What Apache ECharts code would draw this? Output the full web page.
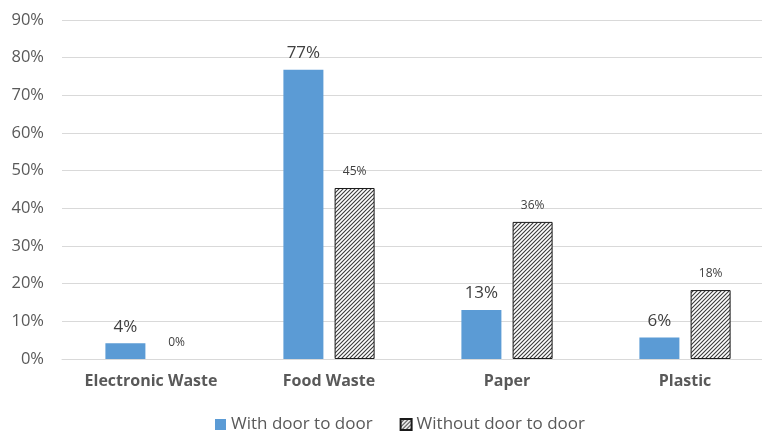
<!DOCTYPE html>
<html lang="en">
<head>
    <meta charset="UTF-8">
    <title>Waste separation with and without door to door collection</title>
    <script src="https://cdn.jsdelivr.net/npm/echarts@6/dist/echarts.min.js"></script>
    <style>
        html, body { margin: 0; padding: 0; background: #ffffff; overflow: hidden; }
        #main { width: 774px; height: 432px; }
    </style>
</head>
<body>
<div id="main"></div>
<script type="text/javascript">
    // data (percent)
    var categories = ['Electronic Waste', 'Food Waste', 'Paper', 'Plastic'];
    var withDoor = [4.2, 76.8, 13.0, 5.7];
    var withoutDoor = [0, 45.4, 36.4, 18.3];
    var seriesNames = ['With door to door', 'Without door to door'];

    // diagonal hatch for the "without" bars
    function hatch() {
        var c = document.createElement('canvas');
        c.width = 4; c.height = 4;
        var ctx = c.getContext('2d');
        ctx.fillStyle = '#ffffff';
        ctx.fillRect(0, 0, 4, 4);
        ctx.strokeStyle = '#3a3a3a';
        ctx.lineWidth = 1.1;
        ctx.beginPath();
        ctx.moveTo(0, 4); ctx.lineTo(4, 0);
        ctx.moveTo(-1, 1); ctx.lineTo(1, -1);
        ctx.moveTo(3, 5); ctx.lineTo(5, 3);
        ctx.stroke();
        return c;
    }

    // a zero bar shows no outline
    var withoutData = withoutDoor.map(function (v) {
        return v === 0 ? { value: v, itemStyle: { borderWidth: 0 } } : v;
    });

    var chart = echarts.init(document.getElementById('main'));
    var font = '"Open Sans", sans-serif';
    var pct = function (p) { return Math.round(p.value) + '%'; };

    var option = {
        backgroundColor: '#ffffff',
        animation: false,
        textStyle: { fontFamily: font },
        grid: { left: 62, top: 20, width: 712, bottom: 73 },
        legend: {
            data: seriesNames,
            top: 411,
            left: 210,
            itemWidth: 11,
            itemHeight: 11,
            itemGap: 27,
            icon: 'rect',
            textStyle: { fontSize: 17, color: '#595959', fontFamily: font }
        },
        xAxis: {
            type: 'category',
            data: categories,
            axisTick: { show: false },
            axisLine: { lineStyle: { color: '#d9d9d9' } },
            axisLabel: { fontSize: 16, fontWeight: 'bold', color: '#595959', margin: 14 }
        },
        yAxis: {
            type: 'value',
            min: 0,
            max: 90,
            interval: 10,
            axisLabel: { fontSize: 16.5, color: '#595959', margin: 18, formatter: '{value}%' },
            splitLine: { lineStyle: { color: '#d9d9d9' } },
            axisLine: { show: false }
        },
        series: [
            {
                name: seriesNames[0],
                type: 'bar',
                data: withDoor,
                barWidth: 40,
                barGap: '28%',
                itemStyle: { color: '#5b9bd5' },
                label: {
                    show: true,
                    position: 'top',
                    distance: 8,
                    fontSize: 17,
                    color: '#404040',
                    formatter: pct
                }
            },
            {
                name: seriesNames[1],
                type: 'bar',
                data: withoutData,
                barWidth: 40,
                itemStyle: {
                    color: { image: hatch(), repeat: 'repeat' },
                    borderColor: '#1a1a1a',
                    borderWidth: 1
                },
                label: {
                    show: true,
                    position: 'top',
                    distance: 10,
                    fontSize: 12,
                    color: '#404040',
                    formatter: pct
                }
            }
        ]
    };

    chart.setOption(option);
</script>
</body>
</html>
